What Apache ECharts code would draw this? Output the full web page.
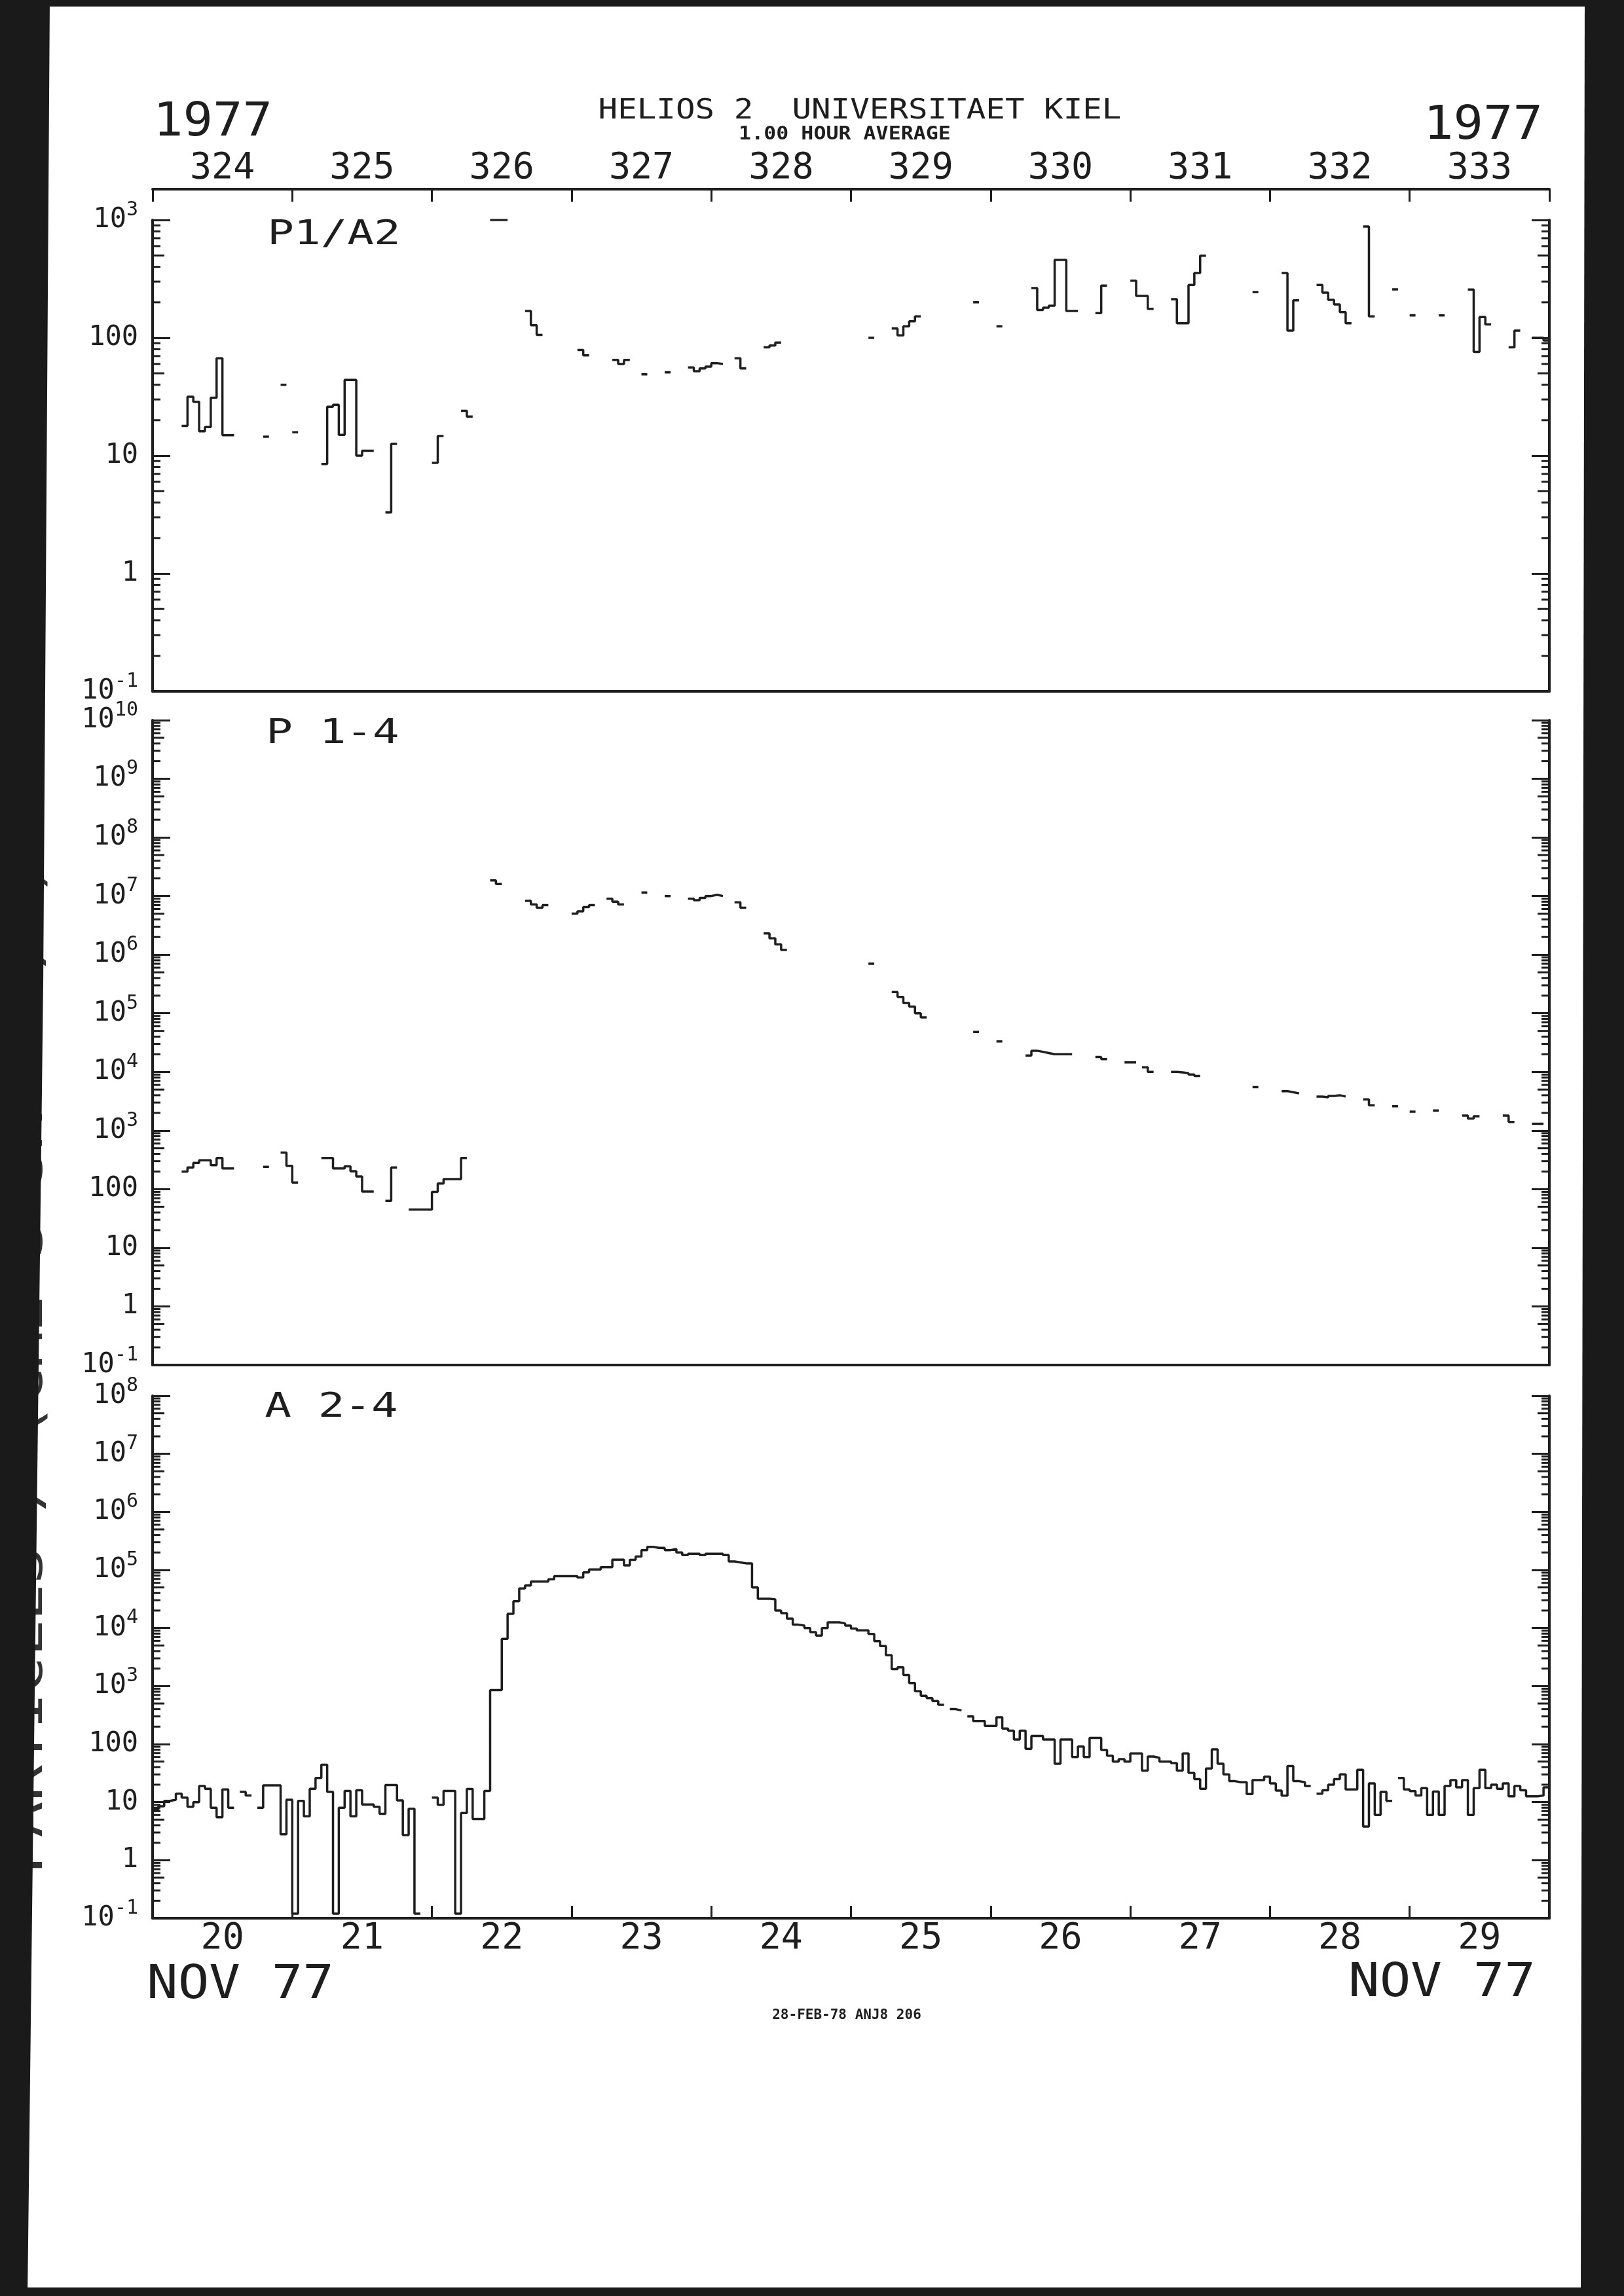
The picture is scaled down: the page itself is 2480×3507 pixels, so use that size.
<!DOCTYPE html>
<html><head><meta charset="utf-8">
<script src="https://cdn.jsdelivr.net/npm/echarts@6/dist/echarts.min.js"></script>
<style>html,body{margin:0;padding:0;background:#fff}#c{width:2480px;height:3507px}</style>
</head><body><div id="c"></div><script>
const n = null;
const dayOfYearLabels = ['324','325','326','327','328','329','330','331','332','333'];
const dayOfMonthLabels = ['20','21','22','23','24','25','26','27','28','29'];
const firstDay = 324, lastDay = 334;
const panelTitles = ['P1/A2', 'P 1-4', 'A 2-4'];

// P1/A2 hourly averages, 24 values per day (Nov 20 .. Nov 29)
const p1a2 = [
 n,n,n,n,n,17.9,31.6,28.6,16.1,17.5,31,67,14.9,14.9,n,n,n,n,n,14.5,n,n,40,n,
 15.8,n,n,n,n,8.5,26,27,15,44,44,10,11,11,n,n,3.3,12.6,n,n,n,n,n,n,
 8.7,14.7,n,n,n,24,21.5,n,n,n,1000,1000,1000,n,n,n,169,128,106,n,n,n,n,n,
 n,79,71,n,n,n,n,65,60,65,n,n,49,n,n,n,51,n,n,n,56,52,55,57,
 61,60,n,n,67,55,n,n,n,83,86,91,n,n,n,n,n,n,n,n,n,n,n,n,
 n,n,n,100,n,n,n,120,105,125,138,152,n,n,n,n,n,n,n,n,n,200,n,n,
 n,125,n,n,n,n,n,264,172,180,187,458,458,169,169,n,n,n,162,277,n,n,n,n,
 305,227,227,176,n,n,n,213,133,133,281,355,498,n,n,n,n,n,n,n,n,244,n,n,
 n,n,355,115,208,n,n,n,281,242,210,192,165,133,n,n,880,152,n,n,n,258,n,n,
 155,n,n,n,n,155,n,n,n,n,257,76,150,130,n,n,n,83,115,n,n,100,100,95
];
// P 1-4 hourly averages
const p14 = [
 n,n,n,n,n,200,235,280,310,310,256,340,225,225,n,n,n,n,n,240,n,n,420,250,
 130,n,n,n,n,340,340,225,225,245,202,165,91,91,n,n,63,235,n,n,45,45,45,45,
 90,125,148,148,148,340,n,n,n,n,1.85e7,1.6e7,n,n,n,n,8.3e6,7.2e6,6.3e6,7e6,n,n,n,n,
 5e6,5.5e6,6.5e6,7e6,n,n,9e6,8e6,7.2e6,n,n,n,1.15e7,n,n,n,1e7,n,n,n,9e6,8.5e6,9.3e6,1e7,
 1.05e7,1e7,n,n,7.8e6,6.3e6,n,n,n,2.3e6,1.9e6,1.5e6,1.2e6,n,n,n,n,n,n,n,n,n,n,n,
 n,n,n,7e5,n,n,n,2.3e5,1.9e5,1.5e5,1.3e5,1e5,8.5e4,n,n,n,n,n,n,n,n,4.8e4,n,n,
 n,3.3e4,n,n,n,n,1.9e4,2.3e4,2.2e4,2.1e4,2e4,2e4,2e4,2e4,n,n,n,n,1.8e4,1.65e4,n,n,n,1.45e4,
 1.45e4,n,1.2e4,1e4,n,n,n,1e4,9.8e3,9.5e3,9e3,8.5e3,n,n,n,n,n,n,n,n,n,5.5e3,n,n,
 n,n,4.7e3,4.5e3,4.3e3,n,n,n,3.8e3,3.7e3,3.9e3,4e3,3.8e3,n,n,n,3.4e3,2.7e3,n,n,n,2.6e3,n,n,
 2.1e3,n,n,n,2.2e3,n,n,n,n,1.8e3,1.6e3,1.75e3,n,n,n,n,1.8e3,1.4e3,n,n,n,1.3e3,1.3e3,n
];
// A 2-4 hourly averages
const a24 = [
 7.5,8.5,10.5,11,14,12,8.3,10,19,17,8,5.5,16.6,8,n,15,13,n,8,19.5,19.5,19.5,2.8,11,
 0.12,10.5,5.7,17,26,44,15,0.12,8,15.6,5.7,16,9.1,9.1,8.3,6.3,19.7,19.7,10.7,2.7,7.7,0.12,n,n,
 12,9,15.6,15.6,0.12,6.5,16.9,5.1,5.1,15.6,850,850,6500,17600,29000,48000,54000,63000,63000,63000,69000,78000,78000,78000,
 78000,74000,91000,102000,102000,112000,112000,151000,151000,120000,150000,170000,220000,250000,240000,240000,220000,230000,200000,180000,190000,190000,180000,190000,
 190000,190000,180000,140000,135000,130000,130000,50000,32000,32000,31000,20000,18000,14500,11400,11000,10000,8500,7400,10000,12500,12500,12000,11000,
 9800,9100,9100,7900,5950,4900,3400,1950,2100,1550,1130,815,680,620,550,475,n,400,380,n,300,250,250,205,
 205,290,185,170,120,170,83,138,138,120,120,46,120,120,60,91,60,128,128,79,63,50,55,50,
 69,69,35,61,58,50,50,47,35,69,32,25,17,38,81,46,30,23,22,22,13.8,24,24,27.5,
 21,15.8,12.9,42,23,22,19,n,14,16,20,25,30,16.6,16.6,36,3.8,21,6,15,10.5,n,26,16.6,
 15.5,13,17.4,6,15.2,6,19,24,18,24,6,17.4,36,17.4,20,17,21,12.6,19,16,12.6,12.6,13,18
];
// y ranges (decade exponents) of the three panels
const yExp = [[-1, 3], [-1, 10], [-1, 8]];

const INK = '#1e1e1e';
const MONO = "'DejaVu Sans Mono','Liberation Mono',monospace";

function stepData(arr) {
  const out = [];
  for (let i = 0; i < arr.length; i++) {
    const v = arr[i], t = firstDay + i / 24;
    if (v == null) { if (out.length && out[out.length - 1][1] != null) out.push([t, null]); continue; }
    out.push([t, v]);
    if (i === arr.length - 1 || arr[i + 1] == null) out.push([firstDay + (i + 1) / 24, v]);
  }
  return out;
}
function minorVals(e) {
  const r = [];
  for (let k = e[0]; k < e[1]; k++) for (let m = 2; m <= 9; m++) r.push([firstDay, m * Math.pow(10, k)]);
  return r;
}
function expLabel(v) {
  const e = Math.round(Math.log10(v));
  if (e >= 3 || e < 0) return '10{s|' + e + '}';
  return String(Math.round(v));
}

const grids = [
  { left: 233, top: 336, width: 2133, height: 720 },
  { left: 233, top: 1100, width: 2133, height: 985 },
  { left: 233, top: 2132, width: 2133, height: 798 }
];

const axLine = { show: true, lineStyle: { color: INK, width: 4 } };
const xAxes = [
  { gridIndex: 0, type: 'value', min: firstDay, max: lastDay, axisLine: axLine, axisTick: { show: false }, axisLabel: { show: false }, splitLine: { show: false } },
  { gridIndex: 0, type: 'category', position: 'top', offset: 47, data: dayOfYearLabels, boundaryGap: true,
    axisLine: axLine, axisTick: { show: true, inside: true, length: 19, lineStyle: { color: INK, width: 3 } },
    axisLabel: { color: INK, fontFamily: MONO, fontSize: 55, margin: 4 }, splitLine: { show: false } },
  { gridIndex: 1, type: 'value', min: firstDay, max: lastDay, axisLine: axLine, axisTick: { show: false }, axisLabel: { show: false }, splitLine: { show: false } },
  { gridIndex: 2, type: 'value', min: firstDay, max: lastDay, show: false },
  { gridIndex: 2, type: 'category', position: 'bottom', data: dayOfMonthLabels, boundaryGap: true,
    axisLine: axLine, axisTick: { show: true, inside: true, length: 19, lineStyle: { color: INK, width: 3 } },
    axisLabel: { color: INK, fontFamily: MONO, fontSize: 55, margin: 4 }, splitLine: { show: false } }
];

const yAxes = [];
yExp.forEach((e, g) => {
  const common = { gridIndex: g, type: 'log', logBase: 10, min: Math.pow(10, e[0]), max: Math.pow(10, e[1]),
    interval: 1, splitNumber: e[1] - e[0], splitLine: { show: false }, axisLine: axLine,
    axisTick: { show: true, inside: true, length: 27, lineStyle: { color: INK, width: 3 } } };
  yAxes.push(Object.assign({}, common, { position: 'left',
    axisLabel: { color: INK, fontFamily: MONO, fontSize: 42, lineHeight: 60, margin: 22, formatter: expLabel, hideOverlap: false,
      rich: { s: { fontFamily: MONO, fontSize: 30, lineHeight: 30, verticalAlign: 'top', color: INK } } } }));
  yAxes.push(Object.assign({}, common, { position: 'right', axisLabel: { show: false } }));
});

function minorTickSeries(xi, yi, e) {
  return { type: 'custom', xAxisIndex: xi, yAxisIndex: yi, silent: true, clip: false, animation: false,
    data: minorVals(e),
    renderItem: function (params, api) {
      const v = api.value(1);
      const a = api.coord([firstDay, v]), b = api.coord([lastDay, v]);
      const mant = Math.round(v / Math.pow(10, Math.floor(Math.log10(v) + 1e-9)));
      const L = mant === 5 ? 18 : 12;
      const st = { stroke: INK, lineWidth: 3 };
      return { type: 'group', children: [
        { type: 'line', shape: { x1: a[0], y1: a[1], x2: a[0] + L, y2: a[1] }, style: st },
        { type: 'line', shape: { x1: b[0] - L, y1: b[1], x2: b[0], y2: b[1] }, style: st }
      ] };
    } };
}
function traceSeries(xi, yi, arr) {
  return { type: 'line', xAxisIndex: xi, yAxisIndex: yi, data: stepData(arr), step: 'end',
    showSymbol: false, symbol: 'none', connectNulls: false, clip: true, animation: false,
    lineStyle: { color: INK, width: 3.5 } };
}

function txt(t, x, y, size, opts) {
  opts = opts || {};
  return { type: 'text', x: x, y: y, z: 10, scaleX: opts.sx || 1, rotation: opts.rot || 0,
    style: { text: t, fill: opts.fill || INK, font: (opts.bold ? 'bold ' : '') + size + 'px ' + MONO,
      align: opts.align || 'center', verticalAlign: 'middle' } };
}

const graphics = [
  txt('1977', 325, 188, 72, { sx: 1.05 }),
  txt('1977', 2265, 193, 72, { sx: 1.05 }),
  txt('HELIOS 2  UNIVERSITAET KIEL', 1313, 170, 42, { sx: 1.17 }),
  txt('1.00 HOUR AVERAGE', 1290, 206, 28, { bold: true, sx: 1.13 }),
  txt(panelTitles[0], 510, 359, 52, { sx: 1.3 }),
  txt(panelTitles[1], 508, 1121, 52, { sx: 1.3 }),
  txt(panelTitles[2], 506, 2150, 52, { sx: 1.3 }),
  txt('NOV 77', 367, 3033, 72, { sx: 1.1 }),
  txt('NOV 77', 2202, 3030, 72, { sx: 1.1 }),
  txt('28-FEB-78 ANJ8 206', 1293, 3079, 21, { bold: true }),
  txt('PARTICLES / (CM2 S SR MEV/N)', 46, 2862, 68, { rot: Math.PI / 2, sx: 1.35, align: 'left', fill: '#333' }),
  { type: 'polygon', z: 50, shape: { points: [[0, 0], [76, 0], [66, 1500], [54, 2500], [42, 3507], [0, 3507]] }, style: { fill: '#1a1a1a' } },
  { type: 'polygon', z: 50, shape: { points: [[2420, 0], [2480, 0], [2480, 3507], [2414, 3507]] }, style: { fill: '#1a1a1a' } },
  { type: 'rect', z: 50, shape: { x: 0, y: 0, width: 2480, height: 10 }, style: { fill: '#1a1a1a' } },
  { type: 'rect', z: 50, shape: { x: 0, y: 3494, width: 2480, height: 13 }, style: { fill: '#1a1a1a' } }
];

const option = {
  backgroundColor: '#ffffff',
  animation: false,
  grid: grids,
  xAxis: xAxes,
  yAxis: yAxes,
  series: [
    traceSeries(0, 0, p1a2), minorTickSeries(0, 0, yExp[0]),
    traceSeries(2, 2, p14), minorTickSeries(2, 2, yExp[1]),
    traceSeries(3, 4, a24), minorTickSeries(3, 4, yExp[2])
  ],
  graphic: graphics
};
const chart = echarts.init(document.getElementById('c'), null, { renderer: 'canvas' });
chart.setOption(option);
</script></body></html>
